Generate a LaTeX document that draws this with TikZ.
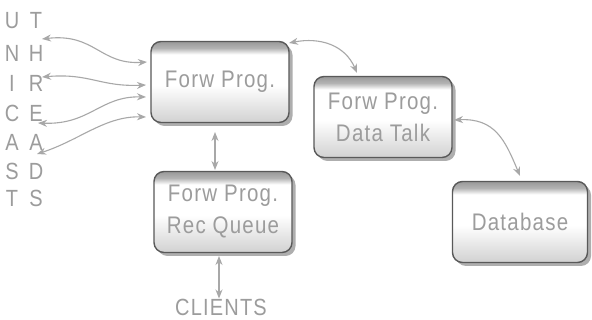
\documentclass[tikz,border=0pt]{standalone}
\usepackage{fontspec}
\usepackage{graphicx}
\newfontfamily\lsans{Liberation Sans}[LetterSpace=6]
\usetikzlibrary{arrows.meta,shadows}
\definecolor{txtgray}{HTML}{9C9C9C}
\definecolor{arrowgray}{HTML}{A8A8A8}
\newcommand\vst[1]{\scalebox{1}[1.17]{#1}}
\pgfdeclareverticalshading{glossy}{100bp}{color(0bp)=(black!18); color(25bp)=(black!18); color(48bp)=(white); color(67bp)=(white); color(71bp)=(black!30); color(75bp)=(black!40); color(100bp)=(black!40)}
\begin{document}
\begin{tikzpicture}[x=1pt,y=-1pt,
  pbox/.style={rectangle, rounded corners=10pt, draw=black!65, line width=1.4pt,
    shading=glossy, minimum width=138pt, minimum height=81pt, inner sep=0pt,
    font=\lsans\fontsize{20.5}{32}\selectfont, text=txtgray, align=center,
    drop shadow={shadow xshift=3.5pt, shadow yshift=-3.5pt, fill=black!45, opacity=0.7}},
  letter/.style={font=\lsans\fontsize{20}{20}\selectfont, text=txtgray, inner sep=0pt},
  link/.style={draw=arrowgray, line width=1.1pt,
    {Stealth[length=9pt,width=7pt]}-{Stealth[length=9pt,width=7pt]}}]
\useasboundingbox[fill=white] (0,0) rectangle (592,320);

\node[pbox] (fp) at (220,82) {\vst{Forw Prog.}};
\node[pbox] (dt) at (383,117) {\vst{Forw Prog.}\\\vst{Data Talk}};
\node[pbox, minimum width=135pt] (db) at (520,222) {\vst{Database}};
\node[pbox] (rq) at (223,212) {\vst{Forw Prog.}\\\vst{Rec Queue}};
\node[letter] (clients) at (221,307) {\vst{CLIENTS}};

\foreach \a/\b/\y [count=\i] in {U/T/20.5, N/H/53.5, I/R/83, C/E/113, A/A/142.5, S/D/171.5, T/S/198.5}{
  \node[letter] (l\i) at (12,\y) {\vst{\a}};
  \node[letter] (r\i) at (36,\y) {\vst{\b}};
}

\coordinate (a1) at (42,39);
\coordinate (a2) at (42,77);
\coordinate (a3) at (38,123);
\coordinate (a4) at (37,154);
\coordinate (b1) at (147,62);
\coordinate (b2) at (146,85);
\coordinate (b3) at (146,97);
\coordinate (b4) at (146,117);
\coordinate (c1) at (289,43);
\coordinate (c2) at (357,73);
\coordinate (d1) at (454,120);
\coordinate (d2) at (520,176);
\coordinate (e1) at (215,132);
\coordinate (e2) at (215,170);
\coordinate (g1) at (219,256);

\draw[link] (a1) .. controls (95,33) and (100,65) .. (b1);
\draw[link] (a2) .. controls (90,73) and (100,87) .. (b2);
\draw[link] (a3) .. controls (90,125) and (100,96) .. (b3);
\draw[link] (a4) .. controls (80,140) and (105,116) .. (b4);
\draw[link] (c1) .. controls (320,37) and (345,45) .. (c2);
\draw[link] (d1) .. controls (495,118) and (505,140) .. (d2);
\draw[link] (e1) -- (e2);
\draw[link] (g1) -- (clients.north -| g1);
\end{tikzpicture}
\end{document}
